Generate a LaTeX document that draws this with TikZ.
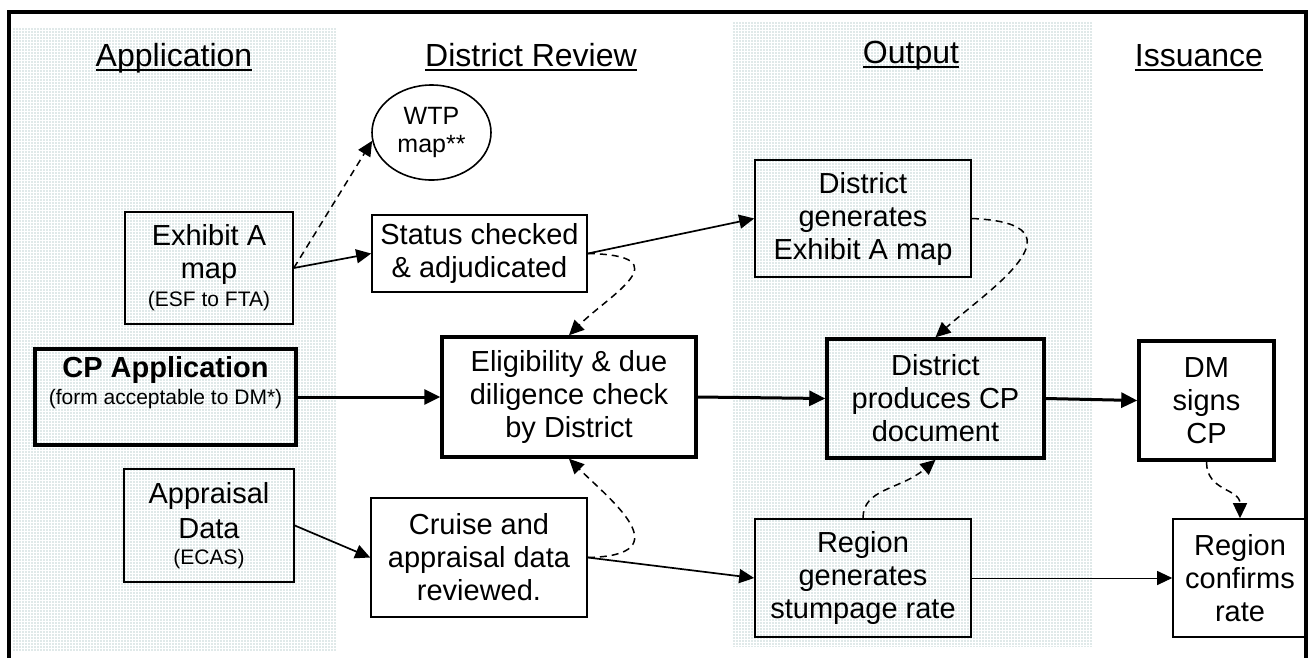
\documentclass[tikz,border=0pt]{standalone}
\usepackage{fontspec}
\setmainfont{Liberation Sans}
\usetikzlibrary{arrows.meta,shapes.geometric}

\definecolor{panelfill}{RGB}{224,233,233}

% font sizes (1pt of the picture = one unit)
\newcommand{\flowhead}{\fontsize{32}{36}\selectfont}
\newcommand{\flowbody}{\fontsize{29}{33}\selectfont}
\newcommand{\flownote}{\fontsize{21}{25}\selectfont}
\newcommand{\flowbubble}{\fontsize{25}{28}\selectfont}

\tikzset{
  x=1pt, y=-1pt,
  box/.style={draw, line width=1.6pt, inner sep=0pt, align=center, font=\flowbody},
  heavybox/.style={box, line width=3.5pt},
  bubble/.style={draw, ellipse, line width=1.6pt, inner sep=0pt, align=center, font=\flowbubble},
  heading/.style={inner sep=0pt, anchor=base, font=\flowhead},
  caption/.style={inner sep=0pt, anchor=base, align=center},
  flow/.style={line width=1.7pt, -{Triangle[length=15pt,width=14pt]}},
  heavyflow/.style={line width=3pt, -{Triangle[length=16pt,width=15pt]}},
  lightflow/.style={line width=1pt, -{Triangle[length=15pt,width=14pt]}},
  dashflow/.style={line width=1.5pt, dash pattern=on 7pt off 5pt, -{Triangle[length=15pt,width=14pt]}},
  underbar/.style={line width=2pt},
  texture/.style={white, line width=1pt, step=3pt},
}

\begin{document}
\begin{tikzpicture}
\useasboundingbox (0,0) rectangle (1314,657);

% shaded columns with a fine dotted texture
\begin{scope}
  \clip (12,27) rectangle (337,651);
  \fill[panelfill] (12,27) rectangle (337,651);
  \draw[texture, shift={(0.5,0.5)}] (0,0) grid (340,660);
\end{scope}
\begin{scope}
  \clip (732,22) rectangle (1092,647);
  \fill[panelfill] (732,22) rectangle (1092,647);
  \draw[texture, shift={(0.5,0.5)}] (720,0) grid (1100,660);
\end{scope}

% outer frame
\draw[line width=4pt] (9,660) -- (9,11.5) -- (1306,11.5) -- (1306,660);

% column headings
\node[heading] (hApp) at (174,66) {Application};
\node[heading] (hRev) at (531,66) {District Review};
\node[heading] (hOut) at (911,63) {Output};
\node[heading] (hIss) at (1199,66) {Issuance};
\foreach \h in {hApp,hRev,hOut,hIss}
  \draw[underbar] ([yshift=-3.8pt]\h.base west) -- ([yshift=-3.8pt]\h.base east);

% boxes
\node[box, minimum width=168pt, minimum height=112pt] (exA) at (209,268)
  {Exhibit A\\map\\[-5pt]{\flownote (ESF to FTA)}};
\node[box, minimum width=215pt, minimum height=77pt] (status) at (479.5,253.5)
  {Status checked\\\& adjudicated};
\node[bubble, minimum width=119pt, minimum height=95pt] (wtp) at (431.5,132.5)
  {WTP\\map**};
\node[heavybox, minimum width=261pt, minimum height=96pt] (cpapp) at (165.5,397) {};
\node[caption, font=\flowbody\bfseries] (cpappTitle) at (165.5,377) {CP Application};
\node[caption, font=\flownote] (cpappNote) at (165.5,404) {(form acceptable to DM*)};
\node[heavybox, minimum width=254pt, minimum height=120pt] (elig) at (569,397)
  {Eligibility \& due\\diligence check\\by District};
\node[box, minimum width=216pt, minimum height=117pt] (dgen) at (863,218.5)
  {District\\generates\\Exhibit A map};
\node[heavybox, minimum width=217pt, minimum height=119pt] (prod) at (935.5,398.5)
  {District\\produces CP\\document};
\node[heavybox, minimum width=135pt, minimum height=119pt] (dm) at (1206.5,400.5)
  {DM\\signs\\CP};
\node[box, minimum width=170pt, minimum height=113pt] (appr) at (209,525.5)
  {Appraisal\\[2pt]Data\\[-7pt]{\flownote (ECAS)}};
\node[box, minimum width=216pt, minimum height=119pt] (cruise) at (479,557.5)
  {Cruise and\\appraisal data\\reviewed.};
\node[box, minimum width=216pt, minimum height=118pt] (rgen) at (863,578)
  {Region\\generates\\stumpage rate};
\node[box, minimum width=134pt, minimum height=118pt] (rconf) at (1240,578)
  {Region\\confirms\\rate};

% solid connectors
\draw[flow] (exA.east) -- (status.west);
\draw[flow] (status.east) -- (dgen.west);
\draw[flow] (appr.east) -- (cruise.west);
\draw[flow] (cruise.east) -- (rgen.west);
\draw[lightflow] (rgen.east) -- (rconf.west);
\draw[heavyflow] (cpapp.east) -- (elig.west);
\draw[heavyflow] (elig.east) -- (prod.west);
\draw[heavyflow] (prod.east) -- (dm.west);

% dashed connectors
\draw[dashflow] (exA.east) -- (wtp.188);
\draw[dashflow] (status.east) .. controls +(95,2) and +(40,-40) .. (elig.north);
\draw[dashflow] (cruise.east) .. controls +(95,-2) and +(40,40) .. (elig.south);
\draw[dashflow] (dgen.east) .. controls +(120,5) and +(50,-45) .. (prod.north);
\draw[dashflow] (rgen.north) .. controls +(0,-30) and +(-35,30) .. (prod.south);
\draw[dashflow] (dm.south) .. controls +(0,30) and +(0,-30) .. (rconf.north);
\end{tikzpicture}
\end{document}
